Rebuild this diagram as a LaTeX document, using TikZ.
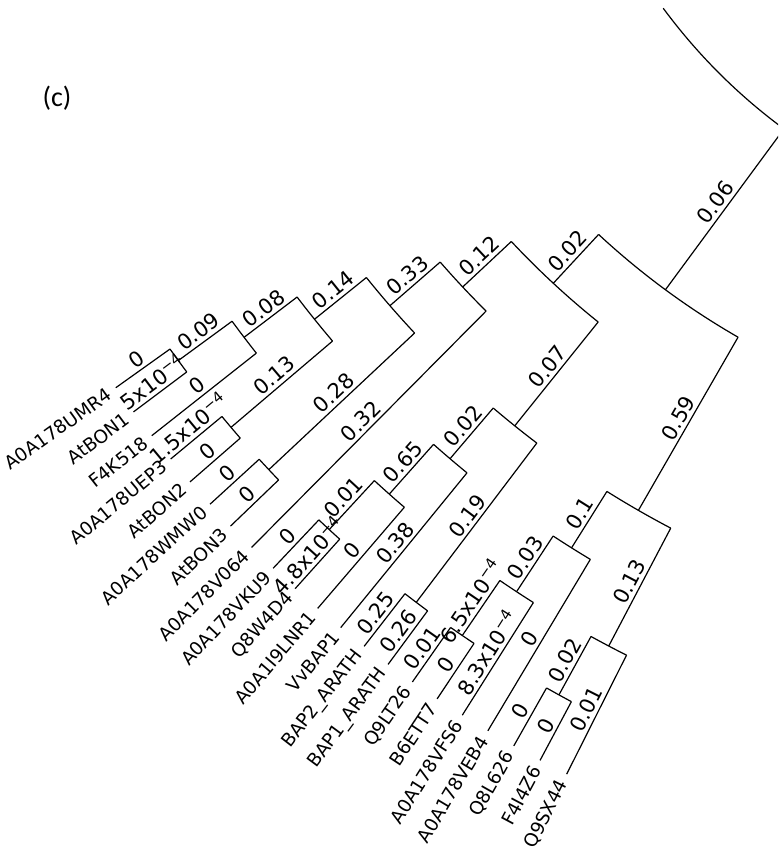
\documentclass[tikz,border=0pt]{standalone}
\usepackage{fontspec}
\setmainfont{DejaVu Sans}
\newfontfamily\panelfont{Carlito}
\usepackage{tikz}

\tikzset{
  leaf/.style={font=\fontsize{9.2}{10}\selectfont, anchor=east, inner sep=4pt, outer sep=0pt},
  blen/.style={font=\fontsize{10.5}{11}\selectfont, sloped, above, inner sep=1.5pt},
}

\begin{document}
\begin{tikzpicture}[x=0.5pt,y=0.5pt,line width=0.6pt]
\useasboundingbox (0,0) rectangle (778,-847);
\clip (0,0) rectangle (778,-847);
\coordinate (o) at (1122,330);

\node[font=\panelfont\fontsize{14}{16}\selectfont] (panel) at (57,-98) {(c)};

% leaf tips and bases
\coordinate (t1) at ([shift={(215.50:1236)}]o);  \coordinate (b1) at ([shift={(215.50:1169.4)}]o);
\coordinate (t2) at ([shift={(216.89:1236)}]o);  \coordinate (b2) at ([shift={(216.89:1169.4)}]o);
\coordinate (t3) at ([shift={(218.28:1236)}]o);  \coordinate (b3) at ([shift={(218.28:1102.8)}]o);
\coordinate (t4) at ([shift={(219.67:1236)}]o);  \coordinate (b4) at ([shift={(219.67:1169.4)}]o);
\coordinate (t5) at ([shift={(221.06:1236)}]o);  \coordinate (b5) at ([shift={(221.06:1169.4)}]o);
\coordinate (t6) at ([shift={(222.45:1236)}]o);  \coordinate (b6) at ([shift={(222.45:1169.4)}]o);
\coordinate (t7) at ([shift={(223.84:1236)}]o);  \coordinate (b7) at ([shift={(223.84:1169.4)}]o);
\coordinate (t8) at ([shift={(225.23:1236)}]o);  \coordinate (b8) at ([shift={(225.23:903)}]o);
\coordinate (t9) at ([shift={(226.62:1236)}]o);  \coordinate (b9) at ([shift={(226.62:1169.4)}]o);
\coordinate (t10) at ([shift={(228.01:1236)}]o); \coordinate (b10) at ([shift={(228.01:1169.4)}]o);
\coordinate (t11) at ([shift={(229.40:1236)}]o); \coordinate (b11) at ([shift={(229.40:1102.8)}]o);
\coordinate (t12) at ([shift={(230.79:1236)}]o); \coordinate (b12) at ([shift={(230.79:1036.2)}]o);
\coordinate (t13) at ([shift={(232.18:1236)}]o); \coordinate (b13) at ([shift={(232.18:1169.4)}]o);
\coordinate (t14) at ([shift={(233.57:1236)}]o); \coordinate (b14) at ([shift={(233.57:1169.4)}]o);
\coordinate (t15) at ([shift={(234.96:1236)}]o); \coordinate (b15) at ([shift={(234.96:1169.4)}]o);
\coordinate (t16) at ([shift={(236.35:1236)}]o); \coordinate (b16) at ([shift={(236.35:1169.4)}]o);
\coordinate (t17) at ([shift={(237.74:1236)}]o); \coordinate (b17) at ([shift={(237.74:1102.8)}]o);
\coordinate (t18) at ([shift={(239.13:1236)}]o); \coordinate (b18) at ([shift={(239.13:1036.2)}]o);
\coordinate (t19) at ([shift={(240.52:1236)}]o); \coordinate (b19) at ([shift={(240.52:1169.4)}]o);
\coordinate (t20) at ([shift={(241.91:1236)}]o); \coordinate (b20) at ([shift={(241.91:1169.4)}]o);
\coordinate (t21) at ([shift={(243.30:1236)}]o); \coordinate (b21) at ([shift={(243.30:1102.8)}]o);

% internal nodes and the points where they meet their parents
\coordinate (n1) at ([shift={(216.195:1169.4)}]o);  \coordinate (p1) at ([shift={(216.195:1102.8)}]o);
\coordinate (n2) at ([shift={(217.24:1102.8)}]o);   \coordinate (p2) at ([shift={(217.24:1036.2)}]o);
\coordinate (n3) at ([shift={(220.365:1169.4)}]o);  \coordinate (p3) at ([shift={(220.365:1036.2)}]o);
\coordinate (n4) at ([shift={(218.80:1036.2)}]o);   \coordinate (p4) at ([shift={(218.80:969.6)}]o);
\coordinate (n5) at ([shift={(223.145:1169.4)}]o);  \coordinate (p5) at ([shift={(223.145:969.6)}]o);
\coordinate (n6) at ([shift={(220.97:969.6)}]o);    \coordinate (p6) at ([shift={(220.97:903)}]o);
\coordinate (n7) at ([shift={(223.10:903)}]o);      \coordinate (p7) at ([shift={(223.10:836.4)}]o);
\coordinate (n8) at ([shift={(227.315:1169.4)}]o);  \coordinate (p8) at ([shift={(227.315:1102.8)}]o);
\coordinate (n9) at ([shift={(228.36:1102.8)}]o);   \coordinate (p9) at ([shift={(228.36:1036.2)}]o);
\coordinate (n10) at ([shift={(229.57:1036.2)}]o);  \coordinate (p10) at ([shift={(229.57:969.6)}]o);
\coordinate (n11) at ([shift={(232.875:1169.4)}]o); \coordinate (p11) at ([shift={(232.875:969.6)}]o);
\coordinate (n12) at ([shift={(231.22:969.6)}]o);   \coordinate (p12) at ([shift={(231.22:836.4)}]o);
\coordinate (n13) at ([shift={(227.16:836.4)}]o);   \coordinate (p13) at ([shift={(227.16:769.8)}]o);
\coordinate (n14) at ([shift={(235.655:1169.4)}]o); \coordinate (p14) at ([shift={(235.655:1102.8)}]o);
\coordinate (n15) at ([shift={(236.70:1102.8)}]o);  \coordinate (p15) at ([shift={(236.70:1036.2)}]o);
\coordinate (n16) at ([shift={(237.91:1036.2)}]o);  \coordinate (p16) at ([shift={(237.91:969.6)}]o);
\coordinate (n17) at ([shift={(241.215:1169.4)}]o); \coordinate (p17) at ([shift={(241.215:1102.8)}]o);
\coordinate (n18) at ([shift={(242.26:1102.8)}]o);  \coordinate (p18) at ([shift={(242.26:969.6)}]o);
\coordinate (n19) at ([shift={(240.08:969.6)}]o);   \coordinate (p19) at ([shift={(240.08:769.8)}]o);
\coordinate (n20) at ([shift={(233.62:769.8)}]o);   \coordinate (p20) at ([shift={(233.62:570)}]o);
\coordinate (r0) at ([shift={(216.4:570)}]o);

% leaf names
\node[leaf, rotate=35.50] (umr4) at (t1) {A0A178UMR4};
\node[leaf, rotate=36.89] (bon1) at (t2) {AtBON1};
\node[leaf, rotate=38.28] (k518) at (t3) {F4K518};
\node[leaf, rotate=39.67] (uep3) at (t4) {A0A178UEP3};
\node[leaf, rotate=41.06] (bon2) at (t5) {AtBON2};
\node[leaf, rotate=42.45] (wmw0) at (t6) {A0A178WMW0};
\node[leaf, rotate=43.84] (bon3) at (t7) {AtBON3};
\node[leaf, rotate=45.23] (v064) at (t8) {A0A178V064};
\node[leaf, rotate=46.62] (vku9) at (t9) {A0A178VKU9};
\node[leaf, rotate=48.01] (w4d4) at (t10) {Q8W4D4};
\node[leaf, rotate=49.40] (lnr1) at (t11) {A0A1I9LNR1};
\node[leaf, rotate=50.79] (vvbap1) at (t12) {VvBAP1};
\node[leaf, rotate=52.18] (bap2) at (t13) {BAP2\_ARATH};
\node[leaf, rotate=53.57] (bap1) at (t14) {BAP1\_ARATH};
\node[leaf, rotate=54.96] (lt26) at (t15) {Q9LT26};
\node[leaf, rotate=56.35] (ett7) at (t16) {B6ETT7};
\node[leaf, rotate=57.74] (vfs6) at (t17) {A0A178VFS6};
\node[leaf, rotate=59.13] (veb4) at (t18) {A0A178VEB4};
\node[leaf, rotate=60.52] (l626) at (t19) {Q8L626};
\node[leaf, rotate=61.91] (i4z6) at (t20) {F4I4Z6};
\node[leaf, rotate=63.30] (sx44) at (t21) {Q9SX44};

% leaf branches
\draw (t1) -- node[blen] {0} (b1);
\draw (t2) -- node[blen] {5x10\textsuperscript{−4}} (b2);
\draw (t3) -- node[blen] {0} (b3);
\draw (t4) -- node[blen] {1.5x10\textsuperscript{−4}} (b4);
\draw (t5) -- node[blen] {0} (b5);
\draw (t6) -- node[blen] {0} (b6);
\draw (t7) -- node[blen] {0} (b7);
\draw (t8) -- node[blen] {0.32} (b8);
\draw (t9) -- node[blen] {0} (b9);
\draw (t10) -- node[blen] {4.8x10\textsuperscript{−4}} (b10);
\draw (t11) -- node[blen] {0} (b11);
\draw (t12) -- node[blen] {0.38} (b12);
\draw (t13) -- node[blen] {0.25} (b13);
\draw (t14) -- node[blen] {0.26} (b14);
\draw (t15) -- node[blen] {0.01} (b15);
\draw (t16) -- node[blen] {0} (b16);
\draw (t17) -- node[blen] {8.3x10\textsuperscript{−4}} (b17);
\draw (t18) -- node[blen] {0} (b18);
\draw (t19) -- node[blen] {0} (b19);
\draw (t20) -- node[blen] {0} (b20);
\draw (t21) -- node[blen] {0.01} (b21);

% inner branches
\draw (n1) -- node[blen] {0.09} (p1);
\draw (n2) -- node[blen] {0.08} (p2);
\draw (n3) -- node[blen] {0.13} (p3);
\draw (n4) -- node[blen] {0.14} (p4);
\draw (n5) -- node[blen] {0.28} (p5);
\draw (n6) -- node[blen] {0.33} (p6);
\draw (n7) -- node[blen] {0.12} (p7);
\draw (n8) -- node[blen] {0.01} (p8);
\draw (n9) -- node[blen] {0.65} (p9);
\draw (n10) -- node[blen] {0.02} (p10);
\draw (n11) -- node[blen] {0.19} (p11);
\draw (n12) -- node[blen] {0.07} (p12);
\draw (n13) -- node[blen] {0.02} (p13);
\draw (n14) -- node[blen] {6.5x10\textsuperscript{−4}} (p14);
\draw (n15) -- node[blen] {0.03} (p15);
\draw (n16) -- node[blen] {0.1} (p16);
\draw (n17) -- node[blen] {0.02} (p17);
\draw (n18) -- node[blen] {0.13} (p18);
\draw (n19) -- node[blen] {0.59} (p19);
\draw (n20) -- node[blen] {0.06} (p20);

% joining arcs
\draw (b1) arc[start angle=215.50, end angle=216.89, radius=1169.4];
\draw (p1) arc[start angle=216.195, end angle=218.28, radius=1102.8];
\draw (b4) arc[start angle=219.67, end angle=221.06, radius=1169.4];
\draw (p2) arc[start angle=217.24, end angle=220.365, radius=1036.2];
\draw (b6) arc[start angle=222.45, end angle=223.84, radius=1169.4];
\draw (p4) arc[start angle=218.80, end angle=223.145, radius=969.6];
\draw (p6) arc[start angle=220.97, end angle=225.23, radius=903];
\draw (b9) arc[start angle=226.62, end angle=228.01, radius=1169.4];
\draw (p8) arc[start angle=227.315, end angle=229.40, radius=1102.8];
\draw (p9) arc[start angle=228.36, end angle=230.79, radius=1036.2];
\draw (b13) arc[start angle=232.18, end angle=233.57, radius=1169.4];
\draw (p10) arc[start angle=229.57, end angle=232.875, radius=969.6];
\draw (p7) arc[start angle=223.10, end angle=231.22, radius=836.4];
\draw (b15) arc[start angle=234.96, end angle=236.35, radius=1169.4];
\draw (p14) arc[start angle=235.655, end angle=237.74, radius=1102.8];
\draw (p15) arc[start angle=236.70, end angle=239.13, radius=1036.2];
\draw (b19) arc[start angle=240.52, end angle=241.91, radius=1169.4];
\draw (p17) arc[start angle=241.215, end angle=243.30, radius=1102.8];
\draw (p16) arc[start angle=237.91, end angle=242.26, radius=969.6];
\draw (p13) arc[start angle=227.16, end angle=240.08, radius=769.8];
\draw (r0) arc[start angle=216.4, end angle=233.62, radius=570];
\end{tikzpicture}
\end{document}
